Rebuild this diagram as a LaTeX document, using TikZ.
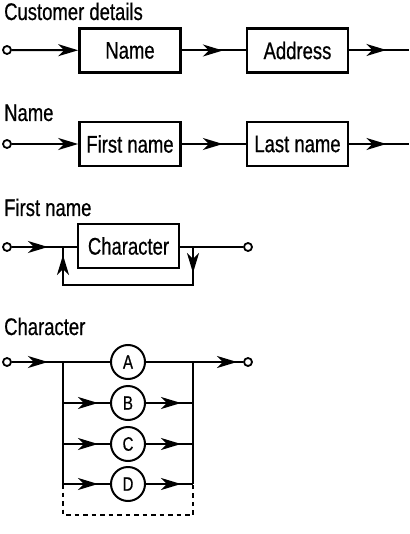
\documentclass[tikz,border=0pt]{standalone}
\usepackage{fontspec}
\setmainfont{Liberation Sans}[FakeStretch=0.77,FakeBold=0.6]
\usetikzlibrary{arrows.meta,decorations.markings}
\tikzset{
  tip/.tip={Stealth[length=20pt,width=12pt,inset=6pt]},
  conn/.style={line width=2pt},
  boxnode/.style={draw,line width=2.7pt,minimum width=101pt,minimum height=44pt,inner sep=0pt,font=\fontsize{24}{26}\selectfont},
  letternode/.style={draw,circle,line width=2pt,minimum size=34pt,inner sep=0pt,font=\fontsize{19.5}{21}\selectfont},
  term/.style={draw,circle,line width=1.8pt,minimum size=8pt,inner sep=0pt},
  title/.style={anchor=base west,inner sep=0pt,font=\fontsize{24}{26}\selectfont},
  arrowat/.style={postaction={decorate},decoration={markings,mark=at position #1 with {\arrow{tip}}}},
  twoarrows/.style 2 args={postaction={decorate},decoration={markings,mark=at position #1 with {\arrow{tip}},mark=at position #2 with {\arrow{tip}}}}
}
\begin{document}
\begin{tikzpicture}[x=1pt,y=-1pt]
\useasboundingbox (0,0) rectangle (409,534);
% Row 1
\node[title] (t1) at (4,20) {Customer details};
\node[term] (s1) at (7,50) {};
\node[boxnode] (n1) at (130,50.5) {Name};
\node[boxnode] (a1) at (297.5,50.5) {Address};
\coordinate (e1) at (409,50);
\draw[conn,-{tip}] (s1) -- (n1);
\draw[conn,arrowat=41pt] (n1) -- (a1);
\draw[conn,arrowat=37pt] (a1.east |- e1) -- (e1);
% Row 2
\node[title] (t2) at (4,121) {Name};
\node[term] (s2) at (7,144) {};
\node[boxnode] (fn) at (130,144) {First name};
\node[boxnode] (ln) at (297.5,144) {Last name};
\coordinate (e2) at (409,144);
\draw[conn,-{tip}] (s2) -- (fn);
\draw[conn,arrowat=41pt] (fn) -- (ln);
\draw[conn,arrowat=37pt] (ln.east |- e2) -- (e2);
% Row 3
\node[title] (t3) at (4,216) {First name};
\node[term] (s3) at (7,247) {};
\coordinate (j1) at (63,247);
\node[boxnode] (ch) at (128.5,246) {Character};
\coordinate (j2) at (193,247);
\node[term] (en3) at (248,247) {};
\coordinate (l3) at (193,285);
\coordinate (l4) at (63,285);
\draw[conn,arrowat=36pt] (s3) -- (j1);
\draw[conn] (j1) -- (ch.west |- j1);
\draw[conn] (ch.east |- j2) -- (j2) -- (en3);
\draw[conn,line join=miter,twoarrows={26pt}{198pt}] (j2) -- (l3) -- (l4) -- (j1);
% Row 4
\node[title] (t4) at (4,335) {Character};
\node[term] (s4) at (7,362) {};
\coordinate (la) at (63,362);
\coordinate (ra) at (193,362);
\coordinate (ld) at (63,484);
\coordinate (rd) at (193,484);
\coordinate (lb) at (63,403);
\coordinate (rb) at (193,403);
\coordinate (lc) at (63,444);
\coordinate (rc) at (193,444);
\node[letternode] (A) at (128,362) {A};
\node[letternode] (B) at (128,403) {B};
\node[letternode] (C) at (128,444) {C};
\node[letternode] (D) at (128,484) {D};
\node[term] (en4) at (248,362) {};
\draw[conn,arrowat=36pt] (s4) -- (la);
\draw[conn] (la) -- (A) -- (ra);
\draw[conn,arrowat=44pt] (ra) -- (en4);
\draw[conn] (la) -- (ld);
\draw[conn] (ra) -- (rd);
\draw[conn,arrowat=35pt] (lb) -- (B);
\draw[conn,arrowat=35pt] (B) -- (rb);
\draw[conn,arrowat=35pt] (lc) -- (C);
\draw[conn,arrowat=35pt] (C) -- (rc);
\draw[conn,arrowat=35pt] (ld) -- (D);
\draw[conn,arrowat=35pt] (D) -- (rd);
\coordinate (lz) at (63,515);
\coordinate (rz) at (193,515);
\draw[conn,dash pattern=on 4.5pt off 4pt] (ld) -- (lz) -- (rz) -- (rd);
\end{tikzpicture}
\end{document}
